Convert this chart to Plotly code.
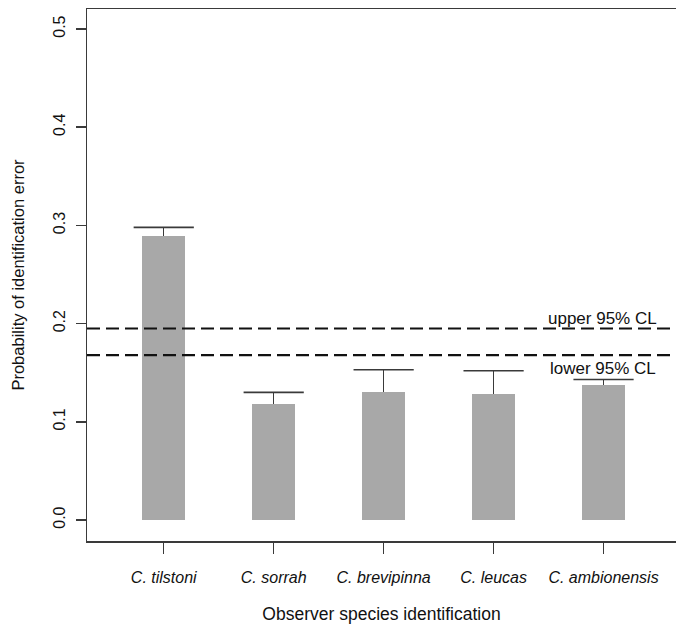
import plotly.graph_objects as go

# ---- data ----
species = ["C. tilstoni", "C. sorrah", "C. brevipinna", "C. leucas", "C. ambionensis"]
prob_error = [0.289, 0.118, 0.130, 0.128, 0.137]
upper_limit = [0.298, 0.130, 0.153, 0.152, 0.143]
cl_upper = 0.195
cl_lower = 0.168
cl_upper_label = "upper 95% CL"
cl_lower_label = "lower 95% CL"
y_tick_vals = [0.0, 0.1, 0.2, 0.3, 0.4, 0.5]
y_tick_text = ["0.0", "0.1", "0.2", "0.3", "0.4", "0.5"]
x_title = "Observer species identification"
y_title = "Probability of identification error"

err_plus = [u - v for u, v in zip(upper_limit, prob_error)]

BAR_COLOR = "#a8a8a8"
LINE_COLOR = "#3a3a3a"
FONT = "Liberation Sans, Arial, sans-serif"
BAR_W = 0.39

fig = go.Figure()
fig.add_trace(go.Bar(
    x=species, y=prob_error, width=BAR_W,
    marker=dict(color=BAR_COLOR, line=dict(width=0)),
    error_y=dict(type="data", symmetric=False, array=err_plus,
                 arrayminus=[0] * len(species), width=0,
                 thickness=1.5, color=LINE_COLOR),
    showlegend=False, hoverinfo="skip",
))
# caps of the upper error bars
fig.add_trace(go.Scatter(
    x=species, y=upper_limit, mode="markers",
    marker=dict(symbol="line-ew", size=43, color=LINE_COLOR,
                line=dict(width=1.6, color=LINE_COLOR)),
    showlegend=False, hoverinfo="skip",
))

for yv in (cl_upper, cl_lower):
    fig.add_shape(type="line", xref="paper", x0=0, x1=1, yref="y", y0=yv, y1=yv,
                  line=dict(color="#111111", width=2.2, dash="13px,6px"))

fig.add_annotation(x=species[-1], y=cl_upper, text=cl_upper_label, showarrow=False,
                   yanchor="bottom", yshift=-1, xshift=-1,
                   font=dict(family=FONT, size=17, color="#111111"))
fig.add_annotation(x=species[-1], y=cl_lower, text=cl_lower_label, showarrow=False,
                   yanchor="top", yshift=-2, xshift=-1,
                   font=dict(family=FONT, size=17, color="#111111"))

fig.update_layout(
    template="none",
    width=676, height=627,
    margin=dict(l=87, r=0, t=9, b=86, pad=0, autoexpand=False),
    paper_bgcolor="white", plot_bgcolor="white",
    font=dict(family=FONT, color="#111111"),
    bargap=0,
)
fig.update_xaxes(
    type="category", range=[-0.698, 4.659], automargin=False,
    showline=True, mirror=True, linecolor=LINE_COLOR, linewidth=1.5,
    ticks="outside", ticklen=11, tickwidth=1.5, tickcolor=LINE_COLOR,
    tickfont=dict(family=FONT, size=16, style="italic", color="#111111"),
    ticklabelstandoff=10,
    showgrid=False, zeroline=False,
    title=dict(text=x_title, font=dict(family=FONT, size=17.5, color="#111111"), standoff=23),
)
fig.update_yaxes(
    range=[-0.0214, 0.5204], automargin=False,
    tickvals=y_tick_vals, ticktext=y_tick_text, tickangle=-90,
    showline=True, mirror=False, linecolor=LINE_COLOR, linewidth=1.5,
    ticks="outside", ticklen=10, tickwidth=1.5, tickcolor=LINE_COLOR,
    tickfont=dict(family=FONT, size=16, color="#111111"),
    ticklabelstandoff=4,
    showgrid=False, zeroline=False,
    title=dict(text=y_title, font=dict(family=FONT, size=16.5, color="#111111"), standoff=22),
)

fig.write_html(
    "out.html",
    config={"displayModeBar": False, "staticPlot": True},
    post_script=(
        "document.body.style.margin='0';"
        "document.body.style.overflow='hidden';"
        "document.documentElement.style.overflow='hidden';"
    ),
)
